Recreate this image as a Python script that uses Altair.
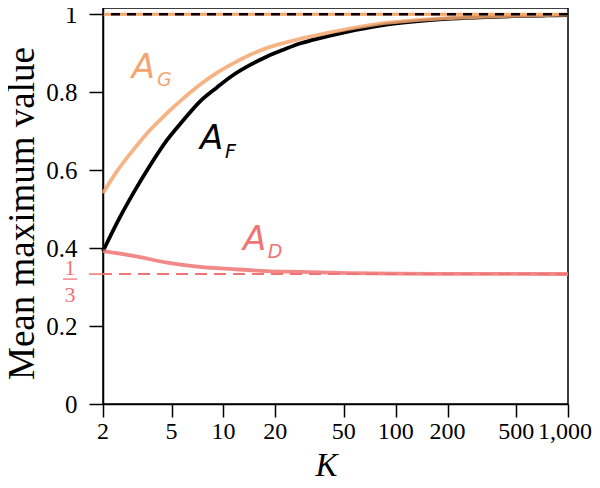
import altair as alt
import pandas as pd

# ---- data ----
K_F = [2, 2.5, 3, 3.75, 4.7, 5.85, 7.3, 9.1, 11.4, 14.3, 17.8, 22.3, 27.8, 33, 52, 81, 126, 198, 308, 480, 755, 1000]
A_F = [0.392, 0.478, 0.541, 0.612, 0.677, 0.728, 0.776, 0.811, 0.844, 0.870, 0.891, 0.909, 0.925, 0.934, 0.955, 0.971, 0.981, 0.988, 0.992, 0.995, 0.997, 0.998]

K_G = [2, 2.4, 3, 3.75, 4.7, 5.85, 7.3, 9.1, 11.4, 14.3, 17.8, 22.3, 27.8, 33, 52, 81, 126, 198, 308, 480, 755, 1000]
A_G = [0.541, 0.596, 0.652, 0.703, 0.746, 0.784, 0.819, 0.849, 0.874, 0.896, 0.913, 0.926, 0.937, 0.944, 0.962, 0.976, 0.984, 0.990, 0.993, 0.996, 0.998, 0.999]

K_D = [2, 3, 4.7, 7.3, 11.4, 17.8, 27.8, 54, 100, 200, 500, 1000]
A_D = [0.392, 0.380, 0.363, 0.352, 0.346, 0.341, 0.339, 0.336, 0.3345, 0.334, 0.3337, 0.3335]

x_ticks = [2, 5, 10, 20, 50, 100, 200, 500, 1000]
y_ticks = [0, 0.2, 0.4, 0.6, 0.8, 1]

lab_K = [2.94, 4.11, 7.31, 10.2, 13.0, 18.1]
lab_v = [0.837, 0.816, 0.654, 0.632, 0.395, 0.375]
lab_text = ["A", "G", "A", "F", "A", "D"]
lab_series = ["G", "G", "F", "F", "D", "D"]
lab_kind = ["main", "sub", "main", "sub", "main", "sub"]

ORANGE = "#F5A66E"
SALMON = "#F07474"
SERIF = "Liberation Serif"

dfF = pd.DataFrame({"K": K_F, "v": A_F})
dfG = pd.DataFrame({"K": K_G, "v": A_G})
dfD = pd.DataFrame({"K": K_D, "v": A_D})
labs = pd.DataFrame({"K": lab_K, "v": lab_v, "t": lab_text, "s": lab_series, "kind": lab_kind})
one = pd.DataFrame({"d": [0]})
xt_main = pd.DataFrame({"K": x_ticks[:-1], "lab": [f"{k:,}" for k in x_ticks[:-1]]})
xt_last = pd.DataFrame({"K": x_ticks[-1:], "lab": [f"{k:,}" for k in x_ticks[-1:]]})

xscale = alt.Scale(type="log", domain=[2, 1000], nice=False)
yscale = alt.Scale(domain=[0, 1.016], nice=False, zero=False)

xaxis = alt.Axis(values=x_ticks, labels=False,
                 tickSize=13, tickWidth=1.5, tickColor="black", domainColor="black", domainWidth=1.5,
                 grid=False,
                 title="K", titleFont=SERIF, titleFontStyle="italic", titleFontSize=33,
                 titleFontWeight="normal", titleColor="black", titleX=223, titleY=71,
                 titleBaseline="alphabetic", titleAlign="center")
yaxis = alt.Axis(values=y_ticks,
                 labelExpr="datum.value == 0 ? '0' : datum.value == 1 ? '1' : format(datum.value, '.1f')",
                 labelFont=SERIF, labelFontSize=25, labelColor="black",
                 tickSize=14, tickWidth=1.5, tickColor="black", domainColor="black", domainWidth=1.5,
                 labelPadding=12, grid=False,
                 title="Mean maximum value", titleFont=SERIF, titleFontSize=37, titleFontWeight="normal",
                 titleColor="black", titleX=-70, titleY=205, titleAngle=270,
                 titleBaseline="alphabetic", titleAlign="center")

X = alt.X("K:Q", scale=xscale, axis=xaxis)
Y = alt.Y("v:Q", scale=yscale, axis=yaxis)
Xs = alt.X("K:Q", scale=xscale)
Ys = alt.Y("v:Q", scale=yscale)

base_line = alt.Chart(dfF).mark_line(color="black", strokeWidth=3.8, interpolate="monotone").encode(x=X, y=Y)

one_orange = alt.Chart(one).mark_rule(color=ORANGE, strokeWidth=3).encode(y=alt.datum(1))
one_black = alt.Chart(one).mark_rule(color="black", strokeWidth=2.5, strokeDash=[9, 7]).encode(y=alt.datum(1))
third = alt.Chart(one).mark_rule(color=SALMON, strokeWidth=2, strokeDash=[12, 7]).encode(y=alt.datum(1 / 3))
third_tick = alt.Chart(one).mark_rule(color=SALMON, strokeWidth=1.5).encode(
    x=alt.value(-14), x2=alt.value(0), y=alt.datum(1 / 3))

lineD = alt.Chart(dfD).mark_line(color=SALMON, strokeWidth=3.8, opacity=0.85, interpolate="monotone").encode(x=Xs, y=Ys)
lineG = alt.Chart(dfG).mark_line(color=ORANGE, strokeWidth=3.8, opacity=0.85, interpolate="monotone").encode(x=Xs, y=Ys)

frac1 = alt.Chart(one).mark_text(text="1", font=SERIF, fontSize=22, color=SALMON, align="center",
                                 baseline="alphabetic", dy=1).encode(x=alt.value(-33), y=alt.datum(1 / 3))
frac3 = alt.Chart(one).mark_text(text="3", font=SERIF, fontSize=22, color=SALMON, align="center",
                                 baseline="alphabetic", dy=28).encode(x=alt.value(-33), y=alt.datum(1 / 3))
fracbar = alt.Chart(one).mark_rule(color=SALMON, strokeWidth=1.3, yOffset=5).encode(
    x=alt.value(-40), x2=alt.value(-26), y=alt.datum(1 / 3))

# x tick labels
xl_main = alt.Chart(xt_main).mark_text(font=SERIF, fontSize=24, color="black", align="center",
                                       baseline="top", dy=16).encode(x=Xs, y=alt.value(396), text="lab:N")
xl_last = alt.Chart(xt_last).mark_text(font=SERIF, fontSize=24, color="black", align="right",
                                       baseline="top", dy=16, dx=24).encode(x=Xs, y=alt.value(396), text="lab:N")

color_scale = alt.Scale(domain=["G", "F", "D"], range=[ORANGE, "black", SALMON])
main_lab = alt.Chart(labs).transform_filter("datum.kind == 'main'").mark_text(
    font="DejaVu Sans", fontStyle="italic", fontSize=34, align="left", baseline="alphabetic").encode(
    x=Xs, y=Ys, text="t:N", color=alt.Color("s:N", scale=color_scale, legend=None))
sub_lab = alt.Chart(labs).transform_filter("datum.kind == 'sub'").mark_text(
    font="DejaVu Sans", fontStyle="italic", fontSize=19, align="left", baseline="alphabetic").encode(
    x=Xs, y=Ys, text="t:N", color=alt.Color("s:N", scale=color_scale, legend=None))

chart = alt.layer(
    base_line, one_orange, third, third_tick, lineD, lineG, one_black,
    frac1, frac3, fracbar, xl_main, xl_last, main_lab, sub_lab
).properties(
    width=465, height=396, autosize="none",
    padding={"left": 95, "top": 0, "right": 24, "bottom": 72}
).configure_view(stroke="black", strokeWidth=1.5)

chart.save("out.html", embed_options={"renderer": "svg", "actions": False})
